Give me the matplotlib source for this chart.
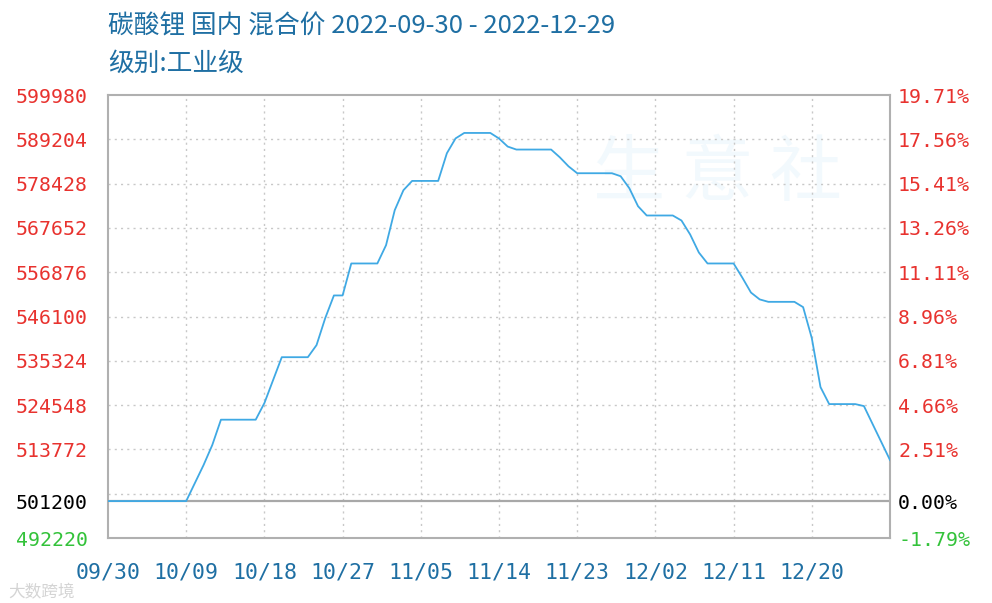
import matplotlib
matplotlib.use("Agg")
import matplotlib.pyplot as plt
import numpy as np
import pandas as pd

plt.rcParams['font.family'] = ['Noto Sans CJK SC', 'DejaVu Sans']

# ---- data ----
title = "碳酸锂 国内 混合价 2022-09-30 - 2022-12-29"
subtitle = "级别:工业级"
start_date = "2022-09-30"
end_date = "2022-12-29"
prices = [
    501200, 501200, 501200, 501200, 501200, 501200, 501200, 501200, 501200, 501200,  # 09/30-10/09
    505590, 509970, 514830, 521000, 521000, 521000, 521000, 521000,                  # 10/10-10/17
    525040, 530630, 536200, 536200, 536200, 536200,                                  # 10/18-10/23
    539140, 545700, 551220, 551220, 559000, 559000, 559000, 559000,                  # 10/24-10/31
    563450, 571960, 576820, 579080, 579080, 579080, 579080,                          # 11/01-11/07
    585810, 589420, 590750, 590750, 590750, 590750,                                  # 11/08-11/13
    589400, 587440, 586710, 586710, 586710, 586710, 586710,                          # 11/14-11/20
    584820, 582630, 580950, 580950, 580950, 580950, 580950,                          # 11/21-11/27
    580220, 577300, 572930, 570670, 570670, 570670, 570670,                          # 11/28-12/04
    569450, 566050, 561670, 559000, 559000, 559000, 559000,                          # 12/05-12/11
    555570, 551920, 550260, 549665, 549665, 549665, 549665,                          # 12/12-12/18
    548380, 540840, 528930, 524795, 524795, 524795, 524795,                          # 12/19-12/25
    524310, 519930, 515560, 511180,                                                  # 12/26-12/29
]
base_price = 501200
left_ticks = [599980, 589204, 578428, 567652, 556876, 546100, 535324, 524548, 513772, 501200, 492220]
left_labels = ["599980", "589204", "578428", "567652", "556876", "546100", "535324", "524548", "513772", "501200", "492220"]
right_labels = ["19.71%", "17.56%", "15.41%", "13.26%", "11.11%", "8.96%", "6.81%", "4.66%", "2.51%", "0.00%", "-1.79%"]
grid_levels = [589204, 578428, 567652, 556876, 546100, 535324, 524548, 513772, 502996]
x_tick_labels = ["09/30", "10/09", "10/18", "10/27", "11/05", "11/14", "11/23", "12/02", "12/11", "12/20"]

dates = pd.date_range(start_date, end_date, freq="D")
days = np.arange(len(dates))
x_ticks = days[::9][:len(x_tick_labels)]

# ---- style ----
line_color = "#3fa9e4"
red = "#e8322e"
green = "#33c23a"
blue_text = "#1f6fa3"
grid_color = "#c8c8c8"

fig = plt.figure(figsize=(9.92, 6.03), dpi=100)
ax = fig.add_axes([108/992, 1-538/603, (890-108)/992, (538-95)/603])
ax.set_xlim(days[0], days[-1])
ax.set_ylim(492220, 599980)

# watermark
ax.text(0.78, 0.82, "生 意 社", transform=ax.transAxes, ha="center", va="center",
        fontsize=52, color="#f2f9fd", zorder=0, family=['Noto Sans CJK SC'])

# grids
for g in grid_levels:
    ax.axhline(g, color=grid_color, lw=1.0, ls=(0, (1.5, 3)), zorder=1)
for xt in x_ticks[1:]:
    ax.axvline(xt, color=grid_color, lw=1.0, ls=(0, (1.5, 3)), zorder=1)
ax.axhline(base_price, color="#a8a8a8", lw=1.6, zorder=2)

ax.plot(days, prices, color=line_color, lw=1.3, zorder=3)

for s in ax.spines.values():
    s.set_color("#b0b0b0")
    s.set_linewidth(1.5)

mono = ['DejaVu Sans Mono']
ax.set_yticks(left_ticks)
ax.set_yticklabels(left_labels, family=mono, fontsize=14.3)
for lbl, c in zip(ax.get_yticklabels(), [red]*9 + ["black", green]):
    lbl.set_color(c)
ax.tick_params(axis="y", length=0, pad=14.4)

ax.set_xticks(x_ticks)
ax.set_xticklabels(x_tick_labels, family=mono, fontsize=15.5, color=blue_text)
ax.tick_params(axis="x", length=0, pad=18)

ax2 = ax.twinx()
ax2.set_ylim(ax.get_ylim())
ax2.set_yticks(left_ticks)
ax2.set_yticklabels(right_labels, family=mono, fontsize=14.3)
for lbl, c in zip(ax2.get_yticklabels(), [red]*9 + ["black", green]):
    lbl.set_color(c)
ax2.tick_params(axis="y", length=0, pad=5.8)
for s in ax2.spines.values():
    s.set_visible(False)

fig.text(108/992, 1-27/603, title, fontsize=18.5, color=blue_text, ha="left", va="center")
fig.text(108/992, 1-64/603, subtitle, fontsize=18.5, color=blue_text, ha="left", va="center")

# bottom-left watermark
fig.text(8/992, 1-593/603, "大数跨境", fontsize=12, color="#d4d4d4", ha="left", va="center")

fig.savefig("out.png", dpi=100)
